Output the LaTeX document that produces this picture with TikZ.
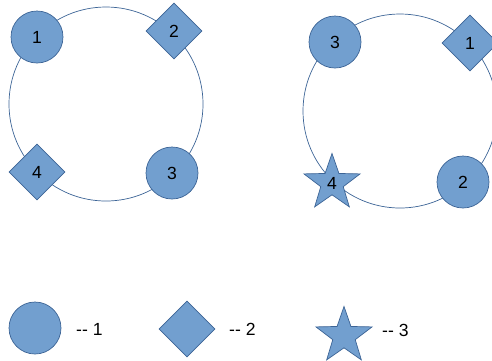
\documentclass[tikz,border=0pt]{standalone}
\usepackage{fontspec}
\setmainfont{Liberation Sans}
\usetikzlibrary{shapes.geometric}
\definecolor{shapefill}{RGB}{114,159,207}
\definecolor{shapeline}{RGB}{60,100,150}

\begin{document}
\begin{tikzpicture}[
        x=0.02cm, y=-0.02cm,
        font=\fontsize{10}{12}\selectfont
    ]
    \tikzstyle{ring}=[draw=shapeline,line width=0.4pt];
    \tikzstyle{rnd}=[draw=shapeline,fill=shapefill,shape=circle,inner sep=0pt,minimum size=1.04cm];
    \tikzstyle{dia}=[draw=shapeline,fill=shapefill,shape=diamond,inner sep=0pt,minimum size=1.12cm];
    \tikzstyle{st}=[draw=shapeline,fill=shapefill,shape=star,star points=5,star point ratio=2.5,inner sep=0pt,minimum size=1.18cm];
    \useasboundingbox (0,0) rectangle (492,360);
    \clip (0,0) rectangle (492,360);
    % first ring
    \begin{scope}
        \draw[ring] (106,104) circle (97);
        \node[rnd] (a1) at (37,37) {1};
        \node[dia] (a2) at (174,31) {2};
        \node[rnd] (a3) at (172,173) {3};
        \node[dia] (a4) at (37,172) {4};
    \end{scope}
    % second ring
    \begin{scope}[shift={(294,7)}]
        \draw[ring] (106,104) circle (97);
        \node[rnd] (b3) at (41,35) {3};
        \node[dia] (b1) at (176,36) {1};
        \node[rnd] (b2) at (169,175) {2};
        \node[st] (b4) at (38,176) {4};
    \end{scope}
    % legend
    \begin{scope}
        \node[rnd] (l1) at (35,328) {};
        \node[anchor=west] (t1) at (70,329) {-{}- 1};
        \node[dia] (l2) at (187,329) {};
        \node[anchor=west] (t2) at (223,329) {-{}- 2};
        \node[st] (l3) at (344,336) {};
        \node[anchor=west] (t3) at (376,330) {-{}- 3};
    \end{scope}
\end{tikzpicture}
\end{document}
